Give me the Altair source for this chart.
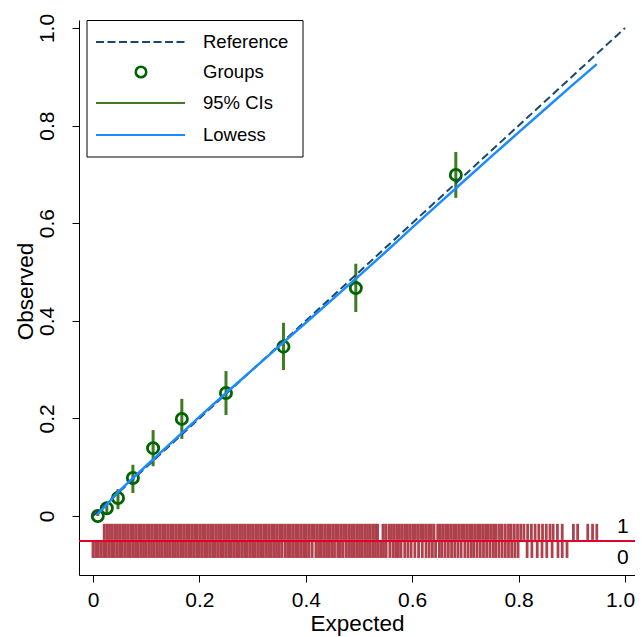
import altair as alt
import pandas as pd

# ---------------- data ----------------
group_expected = [0.009, 0.026, 0.047, 0.075, 0.113, 0.167, 0.250, 0.358, 0.494, 0.682]
group_observed = [0.000, 0.016, 0.037, 0.078, 0.139, 0.199, 0.252, 0.347, 0.467, 0.699]
ci_lower = [0.000, 0.006, 0.014, 0.047, 0.102, 0.158, 0.207, 0.299, 0.418, 0.652]
ci_upper = [0.004, 0.029, 0.055, 0.105, 0.176, 0.240, 0.297, 0.396, 0.517, 0.746]

lowess_x = [0.009, 0.05, 0.10, 0.15, 0.20, 0.25, 0.30, 0.35, 0.40, 0.45,
            0.50, 0.55, 0.60, 0.65, 0.70, 0.75, 0.80, 0.85, 0.90, 0.947]
lowess_y = [0.004, 0.052, 0.103, 0.153, 0.203, 0.252, 0.300, 0.348, 0.396, 0.444,
            0.492, 0.541, 0.591, 0.640, 0.689, 0.738, 0.786, 0.834, 0.882, 0.926]

reference_x = [0.0, 1.0]
reference_y = [0.0, 1.0]

# rug of predicted probabilities, outcome = 1 (upper band)
rug_outcome1 = [
    0.021, 0.026, 0.031, 0.036, 0.041, 0.046, 0.051, 0.056, 0.061, 0.066, 0.071, 0.076,
    0.081, 0.086, 0.091, 0.096, 0.101, 0.106, 0.111, 0.116, 0.121, 0.126, 0.131, 0.136,
    0.141, 0.146, 0.151, 0.156, 0.161, 0.166, 0.171, 0.176, 0.181, 0.186, 0.191, 0.196,
    0.201, 0.206, 0.211, 0.216, 0.221, 0.226, 0.231, 0.236, 0.241, 0.246, 0.251, 0.256,
    0.261, 0.266, 0.271, 0.276, 0.281, 0.286, 0.291, 0.296, 0.301, 0.306, 0.311, 0.316,
    0.321, 0.326, 0.331, 0.336, 0.341, 0.346, 0.351, 0.356, 0.361, 0.366, 0.371, 0.376,
    0.381, 0.386, 0.391, 0.396, 0.401, 0.406, 0.411, 0.416, 0.421, 0.426, 0.431, 0.436,
    0.441, 0.446, 0.451, 0.456, 0.461, 0.466, 0.471, 0.476, 0.481, 0.486, 0.491, 0.496,
    0.501, 0.506, 0.511, 0.516, 0.521, 0.526, 0.531, 0.535, 0.545, 0.550, 0.556, 0.561,
    0.566, 0.571, 0.576, 0.581, 0.586, 0.591, 0.596, 0.601, 0.606, 0.611, 0.616, 0.621,
    0.626, 0.631, 0.636, 0.641, 0.648, 0.653, 0.658, 0.663, 0.668, 0.673, 0.678, 0.683,
    0.688, 0.693, 0.698, 0.703, 0.708, 0.713, 0.718, 0.723, 0.728, 0.733, 0.738, 0.743,
    0.748, 0.753, 0.758, 0.764, 0.769, 0.775, 0.781, 0.786, 0.792, 0.798, 0.804, 0.810,
    0.817, 0.824, 0.831, 0.838, 0.845, 0.852, 0.859, 0.865, 0.873, 0.882, 0.903, 0.911,
    0.930, 0.939, 0.947,
]

# rug of predicted probabilities, outcome = 0 (lower band)
rug_outcome0 = [
    0.000, 0.005, 0.010, 0.015, 0.020, 0.025, 0.030, 0.035, 0.040, 0.045, 0.050, 0.055,
    0.060, 0.065, 0.070, 0.075, 0.080, 0.085, 0.090, 0.095, 0.100, 0.105, 0.110, 0.115,
    0.120, 0.125, 0.130, 0.135, 0.140, 0.145, 0.150, 0.155, 0.160, 0.165, 0.170, 0.175,
    0.180, 0.185, 0.190, 0.195, 0.200, 0.205, 0.210, 0.215, 0.220, 0.225, 0.230, 0.235,
    0.240, 0.245, 0.250, 0.255, 0.260, 0.265, 0.270, 0.275, 0.280, 0.285, 0.290, 0.295,
    0.300, 0.305, 0.310, 0.315, 0.320, 0.325, 0.330, 0.335, 0.340, 0.345, 0.350, 0.355,
    0.361, 0.366, 0.371, 0.376, 0.381, 0.386, 0.391, 0.396, 0.401, 0.406, 0.412, 0.419,
    0.424, 0.429, 0.434, 0.439, 0.444, 0.449, 0.454, 0.460, 0.465, 0.470, 0.476, 0.481,
    0.486, 0.491, 0.496, 0.501, 0.506, 0.511, 0.516, 0.521, 0.526, 0.531, 0.536, 0.541,
    0.546, 0.551, 0.558, 0.564, 0.569, 0.574, 0.579, 0.586, 0.592, 0.598, 0.605, 0.612,
    0.619, 0.626, 0.632, 0.638, 0.644, 0.651, 0.656, 0.662, 0.668, 0.674, 0.680, 0.686,
    0.692, 0.699, 0.705, 0.711, 0.716, 0.722, 0.728, 0.734, 0.740, 0.746, 0.752, 0.757,
    0.763, 0.769, 0.775, 0.781, 0.787, 0.793, 0.799, 0.816, 0.825, 0.835, 0.844, 0.853,
    0.863, 0.874, 0.882, 0.891,
]

rug_labels = ["1", "0"]
legend_labels = ["Reference", "Groups", "95% CIs", "Lowess"]
tick_values = [0.0, 0.2, 0.4, 0.6, 0.8, 1.0]

# ---------------- styling ----------------
FONT = "Liberation Sans"
C_REF = "#1a476f"
C_GROUP = "#006400"
C_CI = "#3e7b23"
C_LOWESS = "#1a8cff"
C_RUG = "#a52d38"
C_RED = "#e4002b"

X_DOMAIN = [-0.0263, 1.0188]
Y_DOMAIN = [-0.1209, 1.0164]

xs = alt.Scale(domain=X_DOMAIN, nice=False, zero=False)
ys = alt.Scale(domain=Y_DOMAIN, nice=False, zero=False)

label_expr = "datum.value == 0 ? '0' : format(datum.value, '.1f')"

x_axis = alt.Axis(
    values=tick_values, labelExpr=label_expr, title="Expected",
    grid=False, tickSize=7, labelPadding=7, labelFontSize=21, titleFontSize=22.5,
    labelFont=FONT, titleFont=FONT, titleFontWeight="normal",
    labelOffset={"condition": {"test": "datum.value == 1", "value": -5}, "value": 0},
    domainColor="black", tickColor="black", labelColor="black", titleColor="black",
    titleY=48, titleBaseline="middle", labelFlush=False, labelOverlap=False,
)
y_axis = alt.Axis(
    values=tick_values, labelExpr=label_expr, title="Observed",
    grid=False, tickSize=7, labelPadding=19, labelFontSize=21, titleFontSize=22.5,
    labelFont=FONT, titleFont=FONT, titleFontWeight="normal",
    labelAngle=270, labelAlign="center", labelBaseline="alphabetic",
    domainColor="black", tickColor="black", labelColor="black", titleColor="black",
    titleAngle=270, titleX=-54, titleY=271, titleAlign="center", titleBaseline="middle",
    labelFlush=False, labelOverlap=False,
)


def X(field):
    return alt.X(field, scale=xs, axis=x_axis)


def Y(field):
    return alt.Y(field, scale=ys, axis=y_axis)


def XD(v):
    return alt.XDatum(v, scale=xs, axis=x_axis)


def YD(v):
    return alt.YDatum(v, scale=ys, axis=y_axis)


groups_df = pd.DataFrame({"expected": group_expected, "observed": group_observed,
                          "lo": ci_lower, "hi": ci_upper})
lowess_df = pd.DataFrame({"x": lowess_x, "y": lowess_y})
ref_df = pd.DataFrame({"x": reference_x, "y": reference_y})
rug1_df = pd.DataFrame({"p": rug_outcome1})
rug0_df = pd.DataFrame({"p": rug_outcome0})
one = pd.DataFrame({"a": [0]})

ci = alt.Chart(groups_df).mark_rule(color=C_CI, strokeWidth=3).encode(
    x=X("expected:Q"), y=Y("lo:Q"), y2="hi:Q",
)
points = alt.Chart(groups_df).mark_point(
    shape="circle", filled=False, color=C_GROUP, size=125, strokeWidth=2.8, opacity=1
).encode(x=X("expected:Q"), y=Y("observed:Q"))
reference = alt.Chart(ref_df).mark_line(color=C_REF, strokeWidth=2, strokeDash=[8, 4]).encode(
    x=X("x:Q"), y=Y("y:Q"))
lowess = alt.Chart(lowess_df).mark_line(color=C_LOWESS, strokeWidth=2.5).encode(
    x=X("x:Q"), y=Y("y:Q"))
rug1 = alt.Chart(rug1_df).mark_rule(color=C_RUG, strokeWidth=2.8, opacity=0.9).encode(
    x=X("p:Q"), y=YD(-0.016), y2=alt.datum(-0.049))
rug0 = alt.Chart(rug0_df).mark_rule(color=C_RUG, strokeWidth=2.8, opacity=0.9).encode(
    x=X("p:Q"), y=YD(-0.053), y2=alt.datum(-0.086))
red_line = alt.Chart(one).mark_rule(color=C_RED, strokeWidth=2).encode(y=YD(-0.051))
lab1 = alt.Chart(one).mark_text(font=FONT, fontSize=21, color="black",
                                align="center", baseline="middle").encode(
    x=XD(0.996), y=YD(-0.0235), text=alt.value(rug_labels[0]))
lab0 = alt.Chart(one).mark_text(font=FONT, fontSize=21, color="black",
                                align="center", baseline="middle").encode(
    x=XD(0.996), y=YD(-0.086), text=alt.value(rug_labels[1]))

# ---------------- legend (drawn inside the plot area) ----------------
box = alt.Chart(one).mark_rect(fill="white", stroke="black", strokeWidth=1).encode(
    x=alt.value(8), x2=alt.value(224), y=alt.value(0.5), y2=alt.value(137))
leg_ref = alt.Chart(one).mark_rule(color=C_REF, strokeWidth=2.2, strokeDash=[8, 3.5]).encode(
    x=alt.value(17), x2=alt.value(106), y=alt.value(22))
leg_pt = alt.Chart(one).mark_point(shape="circle", filled=False, color=C_GROUP,
                                   size=110, strokeWidth=2.6, opacity=1).encode(
    x=alt.value(62), y=alt.value(52))
leg_ci = alt.Chart(one).mark_rule(color=C_CI, strokeWidth=2.2).encode(
    x=alt.value(17), x2=alt.value(106), y=alt.value(83))
leg_lw = alt.Chart(one).mark_rule(color=C_LOWESS, strokeWidth=2.2).encode(
    x=alt.value(17), x2=alt.value(106), y=alt.value(115))
leg_texts = [
    alt.Chart(one).mark_text(font=FONT, fontSize=18.5, color="black",
                             align="left", baseline="middle").encode(
        x=alt.value(124), y=alt.value(yy), text=alt.value(lbl))
    for lbl, yy in zip(legend_labels, [22, 52, 83, 115])
]

chart = alt.layer(
    ci, points, reference, lowess, rug1, rug0, red_line, lab1, lab0,
    box, leg_ref, leg_pt, leg_ci, leg_lw, *leg_texts,
).properties(
    width=556, height=555,
    autosize=alt.AutoSizeParams(type="none"),
    padding={"left": 71, "top": 12, "right": 0, "bottom": 62},
    background="white",
).configure_view(stroke=None)

chart.save("out.html", embed_options={"renderer": "svg", "actions": False})
